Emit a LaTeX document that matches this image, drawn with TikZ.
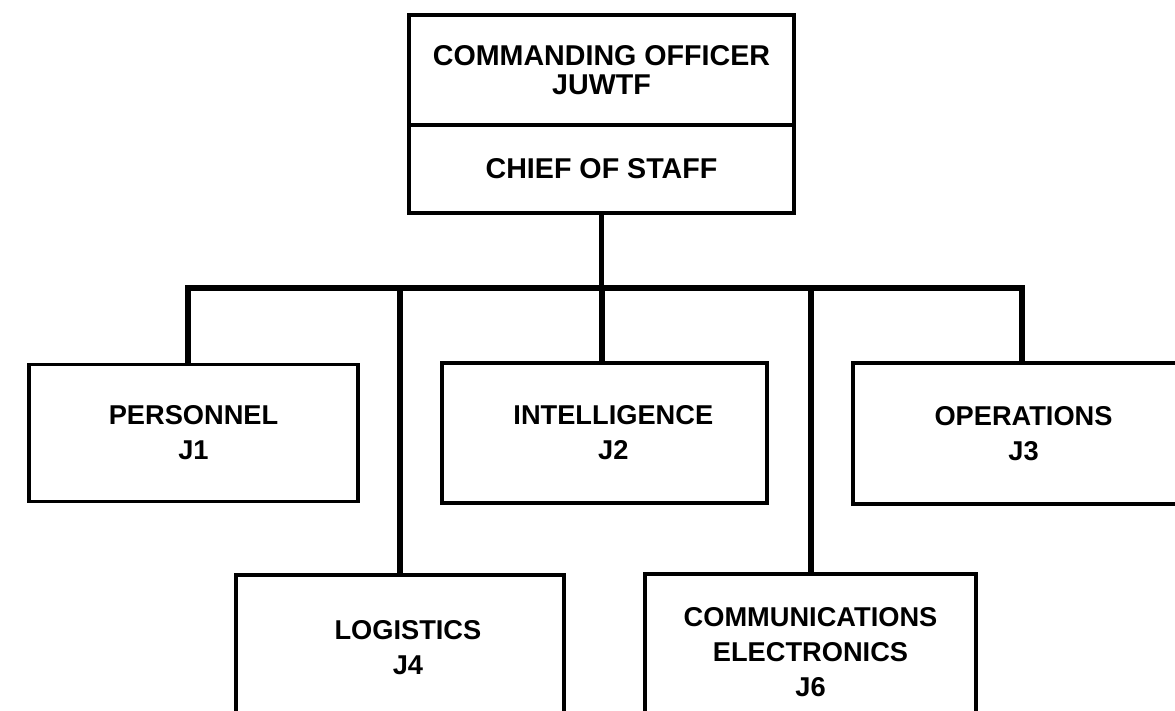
\documentclass[tikz,border=0pt]{standalone}
\usepackage{fontspec}
\setmainfont{Liberation Sans}
\begin{document}
\begin{tikzpicture}[x=0.02cm,y=-0.02cm,
  orgbox/.style={draw=black,line width=2pt,fill=white,inner sep=0pt,outer sep=0pt,
    align=center,font=\fontsize{15.5}{20}\selectfont\bfseries},
  topbox/.style={orgbox,font=\fontsize{16.3}{16.5}\selectfont\bfseries,
    minimum width=7.7cm},
  link/.style={line width=3.4pt,line join=miter}]
\useasboundingbox (0,0) rectangle (1175,710);
\clip (0,0) rectangle (1175,710);
% top box
\node[topbox,minimum height=2.2cm] (co) at (601.5,70) {COMMANDING OFFICER\\JUWTF};
\node[topbox,minimum height=1.76cm] (cos) at (601.5,169) {CHIEF OF STAFF};
% staff boxes
\node[orgbox,minimum width=6.58cm,minimum height=2.74cm] (pers) at (193.5,433) {PERSONNEL\\J1};
\node[orgbox,minimum width=6.5cm,minimum height=2.8cm] (intel) at (604.5,433) {\hspace*{10pt}INTELLIGENCE\\\hspace*{10pt}J2};
\node[orgbox,minimum width=6.54cm,minimum height=2.82cm] (ops) at (1016.5,433.5) {\hspace*{8pt}OPERATIONS\\\hspace*{8pt}J3};
\node[orgbox,minimum width=6.56cm,minimum height=2.92cm] (logi) at (400,648) {\hspace*{9pt}LOGISTICS\\\hspace*{9pt}J4};
\node[orgbox,minimum width=6.62cm,minimum height=3.12cm] (comm) at (810.5,652) {COMMUNICATIONS\\ELECTRONICS\\J6};
% bus
\coordinate (busL) at (188,288);
\coordinate (busR) at (1022,288);
\draw[link] (busL |- pers.north) -- (busL) -- (busR) -- (busR |- ops.north);
\draw[link] (cos.south) -- (cos.south |- busL);
\draw[link] ([xshift=-0.05cm]intel.north |- busL) -- ([xshift=-0.05cm]intel.north);
\draw[link] (logi.north |- busL) -- (logi.north);
\draw[link] (comm.north |- busL) -- (comm.north);
\end{tikzpicture}
\end{document}
